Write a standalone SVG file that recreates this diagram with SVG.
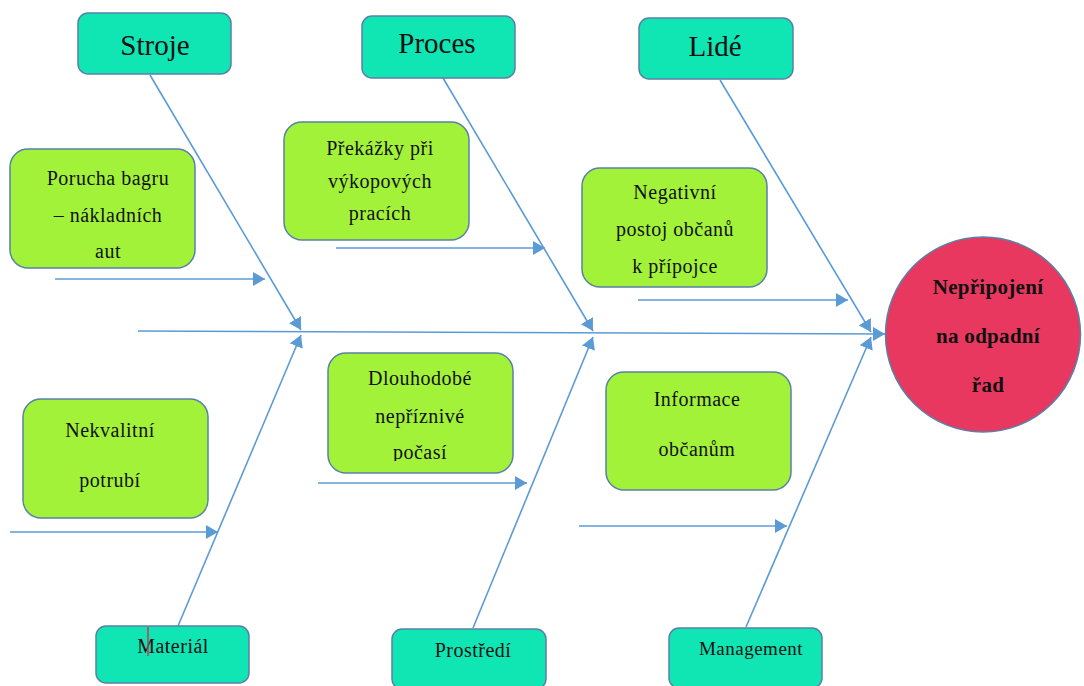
<svg xmlns="http://www.w3.org/2000/svg" width="1084" height="686" viewBox="0 0 1084 686">
<style>
.hdr{fill:#10E5B4;stroke:#5A80A8;stroke-width:1.5}
.cause{fill:#A3F23A;stroke:#5A80A8;stroke-width:1.5}
.t{font-family:"Liberation Serif","Times New Roman",serif;fill:#111;text-anchor:middle}
.th{font-size:29px}
.tb{font-size:20px;letter-spacing:0.5px}
.tc{font-size:21px;font-weight:bold;letter-spacing:0.3px}
.ln{stroke:#5B9BD5;stroke-width:1.6;fill:none;marker-end:url(#ah)}
</style>
<defs>
<marker id="ah" markerUnits="userSpaceOnUse" markerWidth="14" markerHeight="14" refX="12" refY="7" orient="auto">
<path d="M0,0 L12,7 L0,14 Z" fill="#5B9BD5"/>
</marker>
<clipPath id="clipD"><rect x="320" y="350" width="200" height="111"/></clipPath>
</defs>

<g id="connectors">
<line class="ln" x1="138" y1="331" x2="885" y2="334"/>
<line class="ln" x1="150" y1="75" x2="301" y2="330"/>
<line class="ln" x1="178" y1="626" x2="301" y2="335"/>
<line class="ln" x1="443" y1="78" x2="593" y2="331"/>
<line class="ln" x1="473" y1="628" x2="593" y2="337"/>
<line class="ln" x1="720" y1="80" x2="871" y2="332"/>
<line class="ln" x1="746" y1="627" x2="871" y2="337"/>
<line class="ln" x1="55" y1="279" x2="265" y2="279"/>
<line class="ln" x1="336" y1="248" x2="545" y2="248"/>
<line class="ln" x1="638" y1="300" x2="848" y2="300"/>
<line class="ln" x1="10" y1="532" x2="218" y2="532"/>
<line class="ln" x1="318" y1="483" x2="527" y2="483"/>
<line class="ln" x1="579" y1="526" x2="787" y2="526"/>
</g>

<g id="stroje">
<rect class="hdr" x="78" y="13" width="153" height="61" rx="10"/>
<text class="t th" x="155" y="55">Stroje</text>
</g>
<g id="proces">
<rect class="hdr" x="362" y="16" width="153" height="62" rx="10"/>
<text class="t th" x="437" y="53">Proces</text>
</g>
<g id="lide">
<rect class="hdr" x="639" y="18" width="154" height="61" rx="10"/>
<text class="t th" x="715" y="56">Lidé</text>
</g>

<g id="porucha">
<rect class="cause" x="10" y="149" width="185" height="119" rx="18"/>
<text class="t tb" x="108" y="185">Porucha bagru</text>
<text class="t tb" x="108" y="222">– nákladních</text>
<text class="t tb" x="108" y="258">aut</text>
</g>
<g id="prekazky">
<rect class="cause" x="284" y="122" width="185" height="118" rx="18"/>
<text class="t tb" x="380" y="155">Překážky při</text>
<text class="t tb" x="380" y="188">výkopových</text>
<text class="t tb" x="380" y="220">pracích</text>
</g>
<g id="negativni">
<rect class="cause" x="582" y="168" width="185" height="119" rx="18"/>
<text class="t tb" x="675" y="199">Negativní</text>
<text class="t tb" x="675" y="236">postoj občanů</text>
<text class="t tb" x="675" y="273">k přípojce</text>
</g>
<g id="nekvalitni">
<rect class="cause" x="23" y="399" width="185" height="119" rx="18"/>
<text class="t tb" x="110" y="437">Nekvalitní</text>
<text class="t tb" x="110" y="487">potrubí</text>
</g>
<g id="dlouhodobe">
<rect class="cause" x="328" y="353" width="185" height="120" rx="18"/>
<g clip-path="url(#clipD)">
<text class="t tb" x="420" y="385">Dlouhodobé</text>
<text class="t tb" x="420" y="423">nepříznivé</text>
<text class="t tb" x="420" y="459">počasí</text>
</g>
</g>
<g id="informace">
<rect class="cause" x="606" y="372" width="185" height="118" rx="18"/>
<text class="t tb" x="697" y="406">Informace</text>
<text class="t tb" x="697" y="456">občanům</text>
</g>

<g id="material">
<rect class="hdr" x="96" y="626" width="153" height="57" rx="10"/>
<text class="t tb" x="173" y="653">Materiál</text>
<line x1="148" y1="627" x2="148" y2="656" stroke="#E0204A" stroke-width="1.3"/>
</g>
<g id="prostredi">
<rect class="hdr" x="392" y="629" width="154" height="60" rx="10"/>
<text class="t tb" x="473" y="657">Prostředí</text>
</g>
<g id="management">
<rect class="hdr" x="669" y="628" width="153" height="60" rx="10"/>
<text class="t tb" x="751" y="655" style="font-size:19px">Management</text>
</g>

<g id="effect">
<circle cx="983" cy="334.5" r="97.5" fill="#E8385F" stroke="#5A80A8" stroke-width="1.5"/>
<text class="t tc" x="988" y="294">Nepřipojení</text>
<text class="t tc" x="988" y="343">na odpadní</text>
<text class="t tc" x="988" y="392">řad</text>
</g>
</svg>
